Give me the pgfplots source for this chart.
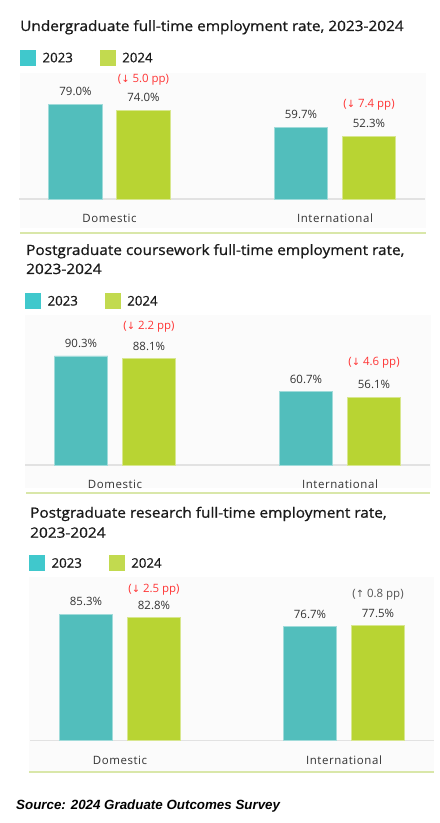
\documentclass[border=0pt]{standalone}
\usepackage{pgfplots}
\pgfplotsset{compat=1.18}
\usepackage{fontspec}
\setmainfont{Open Sans}
\newfontfamily\titlefam{Open Sans}[FakeBold=0.9, FakeStretch=1.08]
\newfontfamily\legfam{Open Sans}[FakeBold=0.6]
\newfontfamily\catfam{Open Sans}[LetterSpace=5]
\newfontfamily\arrowfont{DejaVu Sans}
\newfontfamily\sourcefont{Liberation Sans}

\definecolor{barteal}{HTML}{52BEBC}
\definecolor{bargreen}{HTML}{B8D433}
\definecolor{legteal}{HTML}{40C8CC}
\definecolor{leggreen}{HTML}{C2DA4F}
\definecolor{basegray}{HTML}{E2E2E2}
\definecolor{sepgreen}{HTML}{D9E7A9}
\definecolor{annred}{HTML}{FF3535}
\definecolor{anngray}{HTML}{555555}
\definecolor{labelgray}{HTML}{333333}
\definecolor{textdark}{HTML}{1A1A1A}
\definecolor{panelbg}{HTML}{FBFBFB}

\newcommand{\titlefont}{\titlefam\fontsize{14.3}{17}\selectfont}
\newcommand{\legfont}{\legfam\fontsize{13.3}{16}\selectfont}
\newcommand{\valfont}{\fontsize{11.5}{14}\selectfont}
\newcommand{\catfont}{\catfam\fontsize{11.5}{14}\selectfont}
\newcommand{\annfont}{\fontsize{11.5}{14}\selectfont}

% square legend swatch, centred on the text, followed by a small gap
\newcommand{\legsq}[1]{\addlegendimage{legend image code/.code={\fill[#1] (0bp,-2.7bp) rectangle (15bp,12.3bp); \path (22bp,0bp);}}}
% change annotation above a bar: position, xshift, yshift, arrow, colour, text
\newcommand{\ann}[6]{\node[font=\annfont, text=#5, anchor=base, xshift=#2, yshift=#3] at (axis cs:#1)
  {({\arrowfont\fontsize{10}{12}\selectfont #4}\ #6)};}

\pgfplotsset{
  empbars/.style={
    scale only axis, ybar, ymin=0, ymax=100, xmin=-0.4, xmax=1.4,
    axis x line*=bottom, axis y line=none,
    axis line style={draw=basegray, line width=1.2bp},
    xtick={0,1}, xticklabels={Domestic,International},
    xtick style={draw=none}, ytick=\empty,
    x tick label style={font=\catfont, text=labelgray, anchor=base, yshift=-19.5bp},
    bar width=53.5bp, clip=false,
    /pgf/number format/assume math mode=true,
    nodes near coords={\pgfmathprintnumber[fixed,fixed zerofill,precision=1]{\pgfplotspointmeta}\%},
    every node near coord/.append style={font=\valfont, text=labelgray, anchor=base, yshift=8.6bp},
    legend columns=2,
    legend style={draw=none, fill=none, inner sep=0pt, anchor=west, font=\legfont, text=textdark,
      nodes={inner sep=0pt, anchor=base west},
      /tikz/every even column/.append style={column sep=27bp}},
  },
  tealbar/.style={fill=barteal, draw=barteal!55!white, line width=0.6bp, bar shift=-34bp, forget plot},
  greenbar/.style={fill=bargreen, draw=bargreen!55!white, line width=0.6bp, bar shift=34bp, forget plot},
}

\begin{document}
\begin{tikzpicture}[x=1bp,y=1bp]
\useasboundingbox (0,0) rectangle (440,823);

% faint panel backgrounds and separators
\fill[panelbg] (20,595) rectangle (426,750);
\fill[panelbg] (25,335) rectangle (431,508);
\fill[panelbg] (29,51) rectangle (434,246);
\draw[sepgreen, line width=1.2bp] (20,590) -- (426,590);
\draw[sepgreen, line width=1.2bp] (26,330) -- (430,330);
\draw[sepgreen, line width=1.2bp] (29,51) -- (434,51);

% titles
\node[anchor=base west, font=\titlefont, text=textdark, inner sep=0pt] at (20,792)
  {Undergraduate full-time employment rate, 2023-2024};
\node[anchor=base west, font=\titlefont, text=textdark, inner sep=0pt] at (26,568)
  {Postgraduate coursework full-time employment rate,};
\node[anchor=base west, font=\titlefont, text=textdark, inner sep=0pt] at (26,549)
  {2023-2024};
\node[anchor=base west, font=\titlefont, text=textdark, inner sep=0pt] at (30,305.3)
  {Postgraduate research full-time employment rate,};
\node[anchor=base west, font=\titlefont, text=textdark, inner sep=0pt] at (30,285.3)
  {2023-2024};

% Undergraduate
\begin{axis}[empbars, at={(19.3bp,624bp)}, anchor=south west, width=405.9bp, height=120bp,
  legend style={at={(axis description cs:0.0017,1.179)}}]
\addplot[tealbar] coordinates {(0,79.0) (1,59.7)};
\addplot[greenbar] coordinates {(0,74.0) (1,52.3)};
\legsq{legteal}\addlegendentry{2023}
\legsq{leggreen}\addlegendentry{2024}
\ann{0,74.0}{34bp}{28bp}{↓}{annred}{5.0 pp}
\ann{1,52.3}{34bp}{29bp}{↓}{annred}{7.4 pp}
\end{axis}

% Postgraduate coursework
\begin{axis}[empbars, at={(25bp,358bp)}, anchor=south west, width=405bp, height=120.7bp,
  legend style={at={(axis description cs:0,1.361)}}]
\addplot[tealbar] coordinates {(0,90.3) (1,60.7)};
\addplot[greenbar] coordinates {(0,88.1) (1,56.1)};
\legsq{legteal}\addlegendentry{2023}
\legsq{leggreen}\addlegendentry{2024}
\ann{0,88.1}{34bp}{29.5bp}{↓}{annred}{2.2 pp}
\ann{1,56.1}{34bp}{31.5bp}{↓}{annred}{4.6 pp}
\end{axis}

% Postgraduate research
\begin{axis}[empbars, at={(30.4bp,82.3bp)}, anchor=south west, width=403.2bp, height=148.5bp,
  legend style={at={(axis description cs:-0.0035,1.197)}}]
\addplot[tealbar] coordinates {(0,85.3) (1,76.7)};
\addplot[greenbar] coordinates {(0,82.8) (1,77.5)};
\legsq{legteal}\addlegendentry{2023}
\legsq{leggreen}\addlegendentry{2024}
\ann{0,82.8}{34bp}{25bp}{↓}{annred}{2.5 pp}
\ann{1,77.5}{34bp}{28.5bp}{↑}{anngray}{0.8 pp}
\end{axis}

% source line
\node[anchor=base west, inner sep=0pt, font=\sourcefont\bfseries\itshape\fontsize{13.4}{16}\selectfont, text=black]
  at (16,13.7) {Source: 2024 Graduate Outcomes Survey};
\end{tikzpicture}
\end{document}
